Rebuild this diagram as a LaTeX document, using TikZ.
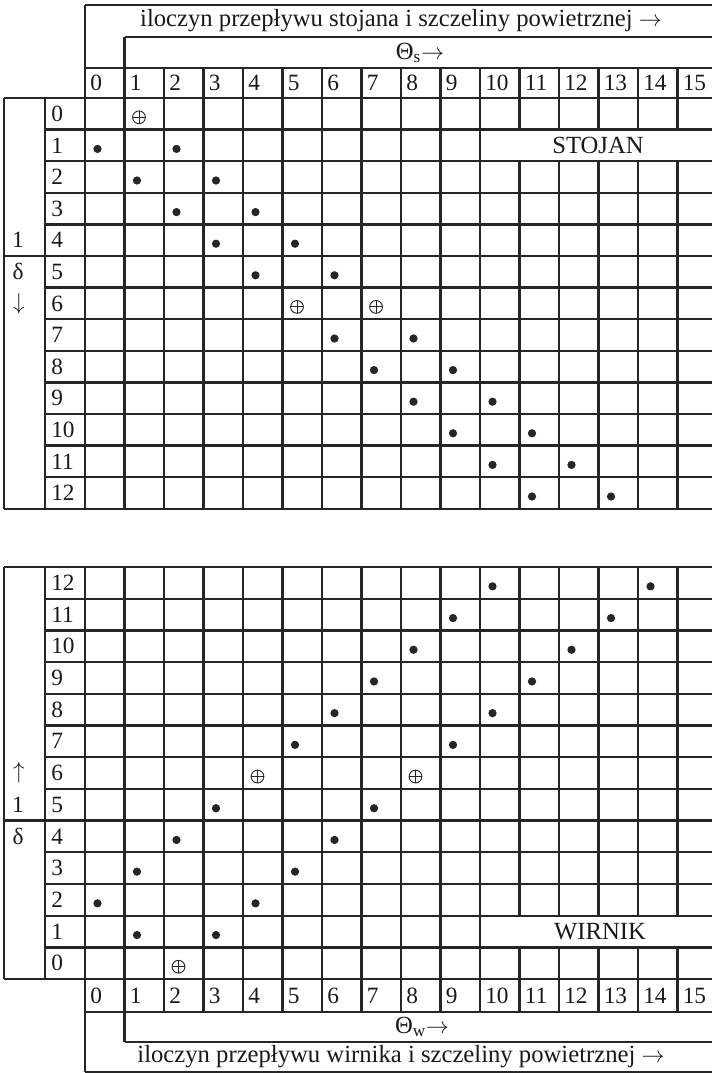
\documentclass[tikz,border=0pt]{standalone}
\usepackage{fontspec}
\setmainfont{Liberation Serif}
\tikzset{
  gridline/.style = {line width=1.7pt,black!85},
  numlbl/.style   = {anchor=west,inner sep=0pt,text=black!90,font=\fontsize{17.5}{20}\selectfont},
  sidelbl/.style  = {inner sep=0pt,text=black!90,font=\fontsize{17.5}{20}\selectfont},
  titlelbl/.style = {inner sep=0pt,text=black!90,font=\fontsize{18.5}{22}\selectfont},
  dotmark/.style  = {circle,fill=black!85,inner sep=0pt,minimum size=6.2pt},
  oplusmark/.style = {circle,draw=black!85,line width=0.7pt,inner sep=0pt,minimum size=9.6pt,
    path picture={\draw[black!85,line width=0.7pt]
      (path picture bounding box.north) -- (path picture bounding box.south)
      (path picture bounding box.west) -- (path picture bounding box.east);}}
}
\begin{document}
\begin{tikzpicture}[x=0.75pt,y=-0.75pt]
  \useasboundingbox (0,0) rectangle (711,1073);

  % STOJAN
  \draw[gridline] (85,5) -- (720,5);
  \draw[gridline] (124.5,37) -- (720,37);
  \draw[gridline] (124.5,37) -- (124.5,68);
  \draw[gridline] (85,68) -- (720,68);
  \draw[gridline] (85,5) -- (85,68);
  \foreach \k in {0,5,13}
    \draw[gridline] (4,{98+31.6*\k}) -- (720,{98+31.6*\k});
  \foreach \k in {1,2,3,4,6,7,8,9,10,11,12}
    \draw[gridline] (45,{98+31.6*\k}) -- (720,{98+31.6*\k});
  \draw[gridline] (4,98) -- (4,508.8);
  \draw[gridline] (45,98) -- (45,508.8);
  \foreach \c in {0,...,10}
    \draw[gridline] ({85+39.5*\c},68) -- ({85+39.5*\c},508.8);
  \foreach \c in {11,...,16} {
    \draw[gridline] ({85+39.5*\c},68) -- ({85+39.5*\c},129.6);
    \draw[gridline] ({85+39.5*\c},161.2) -- ({85+39.5*\c},508.8);
  }

  \node[titlelbl] (s-title) at (401,21) {iloczyn przepływu stojana i szczeliny powietrznej $\rightarrow$};
  \node[titlelbl] (s-theta) at (420,53) {Θ\textsubscript{s}$\rightarrow$};
  \foreach \c in {0,...,15}
    \node[numlbl] (s-col-\c) at ({85+39.5*\c+5},83) {\c};
  \foreach \r in {0,...,12}
    \node[numlbl] (s-row-\r) at (51,{98+31.6*(\r+0.5)}) {\r};
  \node[sidelbl] (s-l) at (18,{98+31.6*4.5}) {1};
  \node[sidelbl] (s-delta) at (18,{98+31.6*5.5}) {δ};
  \node[sidelbl] (s-arrow) at (19,{98+31.6*6.5}) {$\downarrow$};
  \node[titlelbl] (s-name) at (598,{98+31.6*1.5}) {STOJAN};

  \foreach \r/\c in {1/0,1/2,2/1,2/3,3/2,3/4,4/3,4/5,5/4,5/6,7/6,7/8,8/7,8/9,
                     9/8,9/10,10/9,10/11,11/10,11/12,12/11,12/13}
    \node[dotmark] (s-dot-\r-\c) at ({85+39.5*\c+12.5},{98+31.6*(\r+0.5)+3.5}) {};
  \foreach \r/\c in {0/1,6/5,6/7}
    \node[oplusmark] (s-plus-\r-\c) at ({85+39.5*\c+14.5},{98+31.6*(\r+0.5)+3.5}) {};

  % WIRNIK
  \foreach \k in {0,8,13}
    \draw[gridline] (4,{567+31.7*\k}) -- (720,{567+31.7*\k});
  \foreach \k in {1,2,3,4,5,6,7,9,10,11,12}
    \draw[gridline] (45,{567+31.7*\k}) -- (720,{567+31.7*\k});
  \draw[gridline] (4,567) -- (4,979.1);
  \draw[gridline] (45,567) -- (45,979.1);
  \foreach \c in {0,...,10}
    \draw[gridline] ({85+39.5*\c},567) -- ({85+39.5*\c},1012);
  \foreach \c in {11,...,16} {
    \draw[gridline] ({85+39.5*\c},567) -- ({85+39.5*\c},915.7);
    \draw[gridline] ({85+39.5*\c},947.4) -- ({85+39.5*\c},1012);
  }
  \draw[gridline] (85,1012) -- (720,1012);
  \draw[gridline] (124.5,1012) -- (124.5,1042);
  \draw[gridline] (124.5,1042) -- (720,1042);
  \draw[gridline] (85,1012) -- (85,1072);
  \draw[gridline] (85,1072) -- (720,1072);

  \node[titlelbl] (w-title) at (401,1057) {iloczyn przepływu wirnika i szczeliny powietrznej $\rightarrow$};
  \node[titlelbl] (w-theta) at (422,1027) {Θ\textsubscript{w}$\rightarrow$};
  \foreach \c in {0,...,15}
    \node[numlbl] (w-col-\c) at ({85+39.5*\c+5},995.5) {\c};
  \foreach \r in {0,...,12}
    \node[numlbl] (w-row-\r) at (51,{567+31.7*(12-\r+0.5)}) {\r};
  \node[sidelbl] (w-arrow) at (19,{567+31.7*6.5}) {$\uparrow$};
  \node[sidelbl] (w-l) at (18,{567+31.7*7.5}) {1};
  \node[sidelbl] (w-delta) at (18,{567+31.7*8.5}) {δ};
  \node[titlelbl] (w-name) at (600,{567+31.7*11.5}) {WIRNIK};

  \foreach \r/\c in {12/10,12/14,11/9,11/13,10/8,10/12,9/7,9/11,8/6,8/10,7/5,7/9,
                     5/3,5/7,4/2,4/6,3/1,3/5,2/0,2/4,1/1,1/3}
    \node[dotmark] (w-dot-\r-\c) at ({85+39.5*\c+12.5},{567+31.7*(12-\r+0.5)+3.5}) {};
  \foreach \r/\c in {6/4,6/8,0/2}
    \node[oplusmark] (w-plus-\r-\c) at ({85+39.5*\c+14.5},{567+31.7*(12-\r+0.5)+3.5}) {};
\end{tikzpicture}
\end{document}
